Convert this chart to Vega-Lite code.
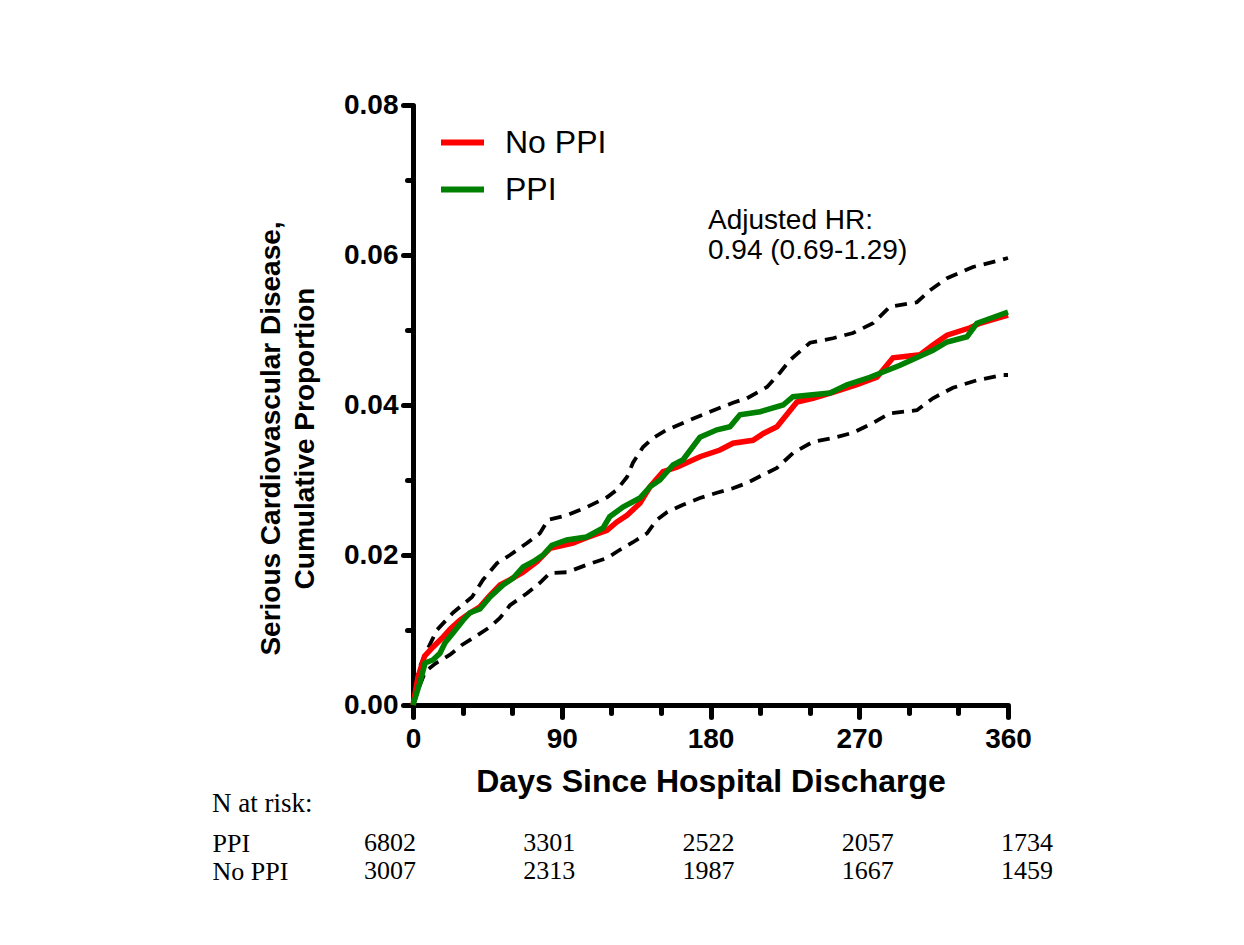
{
  "$schema": "https://vega.github.io/schema/vega-lite/v6.json",
  "autosize": {"type": "pad"},
  "padding": {"left": 212, "top": 91, "right": 5, "bottom": 5},
  "background": "white",
  "bounds": "flush",
  "spacing": 124,
  "config": {"view": {"stroke": null}, "font": "Liberation Sans"},
  "resolve": {"scale": {"x": "independent", "y": "independent"}},
  "datasets": {
    "km": [
      {"group": "No PPI", "day": 0, "value": 0},
      {"group": "No PPI", "day": 3, "value": 0.0037},
      {"group": "No PPI", "day": 7, "value": 0.0065},
      {"group": "No PPI", "day": 12, "value": 0.0077},
      {"group": "No PPI", "day": 17.5, "value": 0.0089},
      {"group": "No PPI", "day": 22.4, "value": 0.0101},
      {"group": "No PPI", "day": 28.4, "value": 0.0113},
      {"group": "No PPI", "day": 34, "value": 0.0122},
      {"group": "No PPI", "day": 40.5, "value": 0.0131},
      {"group": "No PPI", "day": 46, "value": 0.0145},
      {"group": "No PPI", "day": 52.6, "value": 0.016},
      {"group": "No PPI", "day": 58.7, "value": 0.0167},
      {"group": "No PPI", "day": 66.6, "value": 0.0177},
      {"group": "No PPI", "day": 75, "value": 0.0191},
      {"group": "No PPI", "day": 82.9, "value": 0.0209},
      {"group": "No PPI", "day": 96.8, "value": 0.0216},
      {"group": "No PPI", "day": 105, "value": 0.0223},
      {"group": "No PPI", "day": 117.4, "value": 0.0233},
      {"group": "No PPI", "day": 123.4, "value": 0.0244},
      {"group": "No PPI", "day": 129.5, "value": 0.0253},
      {"group": "No PPI", "day": 137.3, "value": 0.0269},
      {"group": "No PPI", "day": 143.4, "value": 0.0291},
      {"group": "No PPI", "day": 151.3, "value": 0.0311},
      {"group": "No PPI", "day": 159.7, "value": 0.0317},
      {"group": "No PPI", "day": 173.6, "value": 0.0331},
      {"group": "No PPI", "day": 185.7, "value": 0.034},
      {"group": "No PPI", "day": 193.6, "value": 0.0349},
      {"group": "No PPI", "day": 205.7, "value": 0.0353},
      {"group": "No PPI", "day": 212, "value": 0.0362},
      {"group": "No PPI", "day": 220.2, "value": 0.0371},
      {"group": "No PPI", "day": 232.3, "value": 0.0404},
      {"group": "No PPI", "day": 242, "value": 0.0409},
      {"group": "No PPI", "day": 254.1, "value": 0.0417},
      {"group": "No PPI", "day": 268.6, "value": 0.0427},
      {"group": "No PPI", "day": 280.7, "value": 0.0437},
      {"group": "No PPI", "day": 290.4, "value": 0.0463},
      {"group": "No PPI", "day": 306.8, "value": 0.0467},
      {"group": "No PPI", "day": 314.6, "value": 0.048},
      {"group": "No PPI", "day": 323.1, "value": 0.0493},
      {"group": "No PPI", "day": 337, "value": 0.0503},
      {"group": "No PPI", "day": 343, "value": 0.0509},
      {"group": "No PPI", "day": 360, "value": 0.052},
      {"group": "PPI", "day": 0, "value": 0},
      {"group": "PPI", "day": 4.2, "value": 0.003},
      {"group": "PPI", "day": 7.3, "value": 0.0056},
      {"group": "PPI", "day": 12, "value": 0.006},
      {"group": "PPI", "day": 16.3, "value": 0.0069},
      {"group": "PPI", "day": 19.4, "value": 0.0083},
      {"group": "PPI", "day": 24.2, "value": 0.0096},
      {"group": "PPI", "day": 30.3, "value": 0.0113},
      {"group": "PPI", "day": 34.5, "value": 0.0123},
      {"group": "PPI", "day": 40.5, "value": 0.0128},
      {"group": "PPI", "day": 46.6, "value": 0.0144},
      {"group": "PPI", "day": 54.5, "value": 0.016},
      {"group": "PPI", "day": 60.5, "value": 0.0169},
      {"group": "PPI", "day": 66.6, "value": 0.0184},
      {"group": "PPI", "day": 72.6, "value": 0.0191},
      {"group": "PPI", "day": 78.7, "value": 0.02},
      {"group": "PPI", "day": 84, "value": 0.0213},
      {"group": "PPI", "day": 93, "value": 0.022},
      {"group": "PPI", "day": 105, "value": 0.0224},
      {"group": "PPI", "day": 115, "value": 0.0236},
      {"group": "PPI", "day": 119, "value": 0.0251},
      {"group": "PPI", "day": 127, "value": 0.0264},
      {"group": "PPI", "day": 137.3, "value": 0.0276},
      {"group": "PPI", "day": 143.4, "value": 0.0291},
      {"group": "PPI", "day": 149.4, "value": 0.03},
      {"group": "PPI", "day": 157.3, "value": 0.032},
      {"group": "PPI", "day": 163.4, "value": 0.0327},
      {"group": "PPI", "day": 173.6, "value": 0.0357},
      {"group": "PPI", "day": 183.9, "value": 0.0367},
      {"group": "PPI", "day": 191.8, "value": 0.0371},
      {"group": "PPI", "day": 197.8, "value": 0.0387},
      {"group": "PPI", "day": 210, "value": 0.0391},
      {"group": "PPI", "day": 223.9, "value": 0.04},
      {"group": "PPI", "day": 229.9, "value": 0.0411},
      {"group": "PPI", "day": 252.3, "value": 0.0416},
      {"group": "PPI", "day": 262.6, "value": 0.0427},
      {"group": "PPI", "day": 276.5, "value": 0.0437},
      {"group": "PPI", "day": 294.7, "value": 0.0453},
      {"group": "PPI", "day": 314.6, "value": 0.0473},
      {"group": "PPI", "day": 323.1, "value": 0.0484},
      {"group": "PPI", "day": 335.2, "value": 0.0491},
      {"group": "PPI", "day": 341.2, "value": 0.0509},
      {"group": "PPI", "day": 360, "value": 0.0524}
    ],
    "ci": [
      {"bound": "upper", "day": 0, "value": 0},
      {"bound": "upper", "day": 3, "value": 0.0045},
      {"bound": "upper", "day": 8.5, "value": 0.0073},
      {"bound": "upper", "day": 14.5, "value": 0.01},
      {"bound": "upper", "day": 24.2, "value": 0.0123},
      {"bound": "upper", "day": 35.7, "value": 0.0144},
      {"bound": "upper", "day": 42.4, "value": 0.0167},
      {"bound": "upper", "day": 50.8, "value": 0.0189},
      {"bound": "upper", "day": 58.7, "value": 0.02},
      {"bound": "upper", "day": 69, "value": 0.0216},
      {"bound": "upper", "day": 76.8, "value": 0.0229},
      {"bound": "upper", "day": 81.7, "value": 0.0247},
      {"bound": "upper", "day": 93.2, "value": 0.0253},
      {"bound": "upper", "day": 105.3, "value": 0.0264},
      {"bound": "upper", "day": 117.4, "value": 0.0277},
      {"bound": "upper", "day": 123.4, "value": 0.0287},
      {"bound": "upper", "day": 129.5, "value": 0.0304},
      {"bound": "upper", "day": 133.1, "value": 0.0323},
      {"bound": "upper", "day": 139.2, "value": 0.0344},
      {"bound": "upper", "day": 145.2, "value": 0.0356},
      {"bound": "upper", "day": 153.7, "value": 0.0367},
      {"bound": "upper", "day": 167.6, "value": 0.038},
      {"bound": "upper", "day": 179.7, "value": 0.0391},
      {"bound": "upper", "day": 193.6, "value": 0.0403},
      {"bound": "upper", "day": 202.1, "value": 0.0409},
      {"bound": "upper", "day": 214.2, "value": 0.0424},
      {"bound": "upper", "day": 222, "value": 0.0443},
      {"bound": "upper", "day": 228.1, "value": 0.046},
      {"bound": "upper", "day": 240.2, "value": 0.0483},
      {"bound": "upper", "day": 254.1, "value": 0.0489},
      {"bound": "upper", "day": 266.2, "value": 0.0496},
      {"bound": "upper", "day": 278.3, "value": 0.0509},
      {"bound": "upper", "day": 288.6, "value": 0.0531},
      {"bound": "upper", "day": 304.9, "value": 0.0537},
      {"bound": "upper", "day": 312.8, "value": 0.0553},
      {"bound": "upper", "day": 323.1, "value": 0.0569},
      {"bound": "upper", "day": 338.8, "value": 0.0584},
      {"bound": "upper", "day": 355.2, "value": 0.0593},
      {"bound": "upper", "day": 360, "value": 0.0596},
      {"bound": "lower", "day": 0, "value": 0},
      {"bound": "lower", "day": 3, "value": 0.002},
      {"bound": "lower", "day": 7.3, "value": 0.0044},
      {"bound": "lower", "day": 13.3, "value": 0.0055},
      {"bound": "lower", "day": 22.4, "value": 0.0067},
      {"bound": "lower", "day": 29.6, "value": 0.008},
      {"bound": "lower", "day": 37.5, "value": 0.0091},
      {"bound": "lower", "day": 46.6, "value": 0.0104},
      {"bound": "lower", "day": 52.6, "value": 0.0116},
      {"bound": "lower", "day": 58.7, "value": 0.0133},
      {"bound": "lower", "day": 69, "value": 0.0149},
      {"bound": "lower", "day": 76.8, "value": 0.0163},
      {"bound": "lower", "day": 82.9, "value": 0.0176},
      {"bound": "lower", "day": 93.2, "value": 0.0177},
      {"bound": "lower", "day": 105.3, "value": 0.0187},
      {"bound": "lower", "day": 117.4, "value": 0.0196},
      {"bound": "lower", "day": 125.2, "value": 0.0207},
      {"bound": "lower", "day": 133.1, "value": 0.0217},
      {"bound": "lower", "day": 141.6, "value": 0.0229},
      {"bound": "lower", "day": 147.6, "value": 0.0247},
      {"bound": "lower", "day": 153.7, "value": 0.0257},
      {"bound": "lower", "day": 163.4, "value": 0.0267},
      {"bound": "lower", "day": 173.6, "value": 0.0276},
      {"bound": "lower", "day": 183.9, "value": 0.0283},
      {"bound": "lower", "day": 193.6, "value": 0.0289},
      {"bound": "lower", "day": 202.1, "value": 0.0296},
      {"bound": "lower", "day": 210, "value": 0.0305},
      {"bound": "lower", "day": 220.2, "value": 0.0316},
      {"bound": "lower", "day": 229.9, "value": 0.0336},
      {"bound": "lower", "day": 242, "value": 0.0351},
      {"bound": "lower", "day": 254.1, "value": 0.0356},
      {"bound": "lower", "day": 266.2, "value": 0.0363},
      {"bound": "lower", "day": 278.3, "value": 0.0376},
      {"bound": "lower", "day": 288.6, "value": 0.0389},
      {"bound": "lower", "day": 304.9, "value": 0.0393},
      {"bound": "lower", "day": 314.6, "value": 0.0409},
      {"bound": "lower", "day": 326.7, "value": 0.0423},
      {"bound": "lower", "day": 341.2, "value": 0.0433},
      {"bound": "lower", "day": 357, "value": 0.044},
      {"bound": "lower", "day": 360, "value": 0.044}
    ],
    "note": [
      {"day": 178.5, "value": 0.0664, "label": "Adjusted HR:\n0.94 (0.69-1.29)"}
    ],
    "risk": [
      {"group": "PPI", "time": 0, "n": 6802},
      {"group": "PPI", "time": 90, "n": 3301},
      {"group": "PPI", "time": 180, "n": 2522},
      {"group": "PPI", "time": 270, "n": 2057},
      {"group": "PPI", "time": 360, "n": 1734},
      {"group": "No PPI", "time": 0, "n": 3007},
      {"group": "No PPI", "time": 90, "n": 2313},
      {"group": "No PPI", "time": 180, "n": 1987},
      {"group": "No PPI", "time": 270, "n": 1667},
      {"group": "No PPI", "time": 360, "n": 1459}
    ]
  },
  "vconcat": [
    {
      "width": 595,
      "height": 600,
      "encoding": {
        "x": {
          "field": "day", "type": "quantitative",
          "scale": {"domain": [0, 360], "nice": false, "zero": false},
          "axis": {
            "values": [0, 30, 60, 90, 120, 150, 180, 210, 240, 270, 300, 330, 360],
            "labelExpr": "datum.value % 90 === 0 ? datum.label : ''",
            "tickSize": {"condition": {"test": "datum.value % 90 === 0", "value": 12}, "value": 8},
            "tickWidth": 5, "tickColor": "black", "tickCap": "round",
            "domainWidth": 5, "domainColor": "black",
            "labelFont": "Liberation Sans", "labelFontSize": 28, "labelFontWeight": "bold", "labelColor": "black",
            "labelPadding": 8, "labelFlush": false, "labelOverlap": false,
            "title": "Days Since Hospital Discharge",
            "titleFont": "Liberation Sans", "titleFontSize": 32, "titleFontWeight": "bold", "titleColor": "black",
            "titlePadding": 13, "grid": false
          }
        },
        "y": {
          "field": "value", "type": "quantitative",
          "scale": {"domain": [0, 0.08], "nice": false},
          "axis": {
            "values": [0, 0.01, 0.02, 0.03, 0.04, 0.05, 0.06, 0.07, 0.08],
            "labelExpr": "round(datum.value * 100) % 2 === 0 ? format(datum.value, '.2f') : ''",
            "tickSize": {"condition": {"test": "round(datum.value * 100) % 2 === 0", "value": 10}, "value": 6},
            "tickWidth": 5, "tickColor": "black", "tickCap": "round",
            "domainWidth": 5, "domainColor": "black",
            "labelFont": "Liberation Sans", "labelFontSize": 28, "labelFontWeight": "bold", "labelColor": "black",
            "labelPadding": 5, "labelFlush": false, "labelOverlap": false,
            "title": ["Serious Cardiovascular Disease,", "Cumulative Proportion"],
            "titleFont": "Liberation Sans", "titleFontSize": 28, "titleFontWeight": "bold", "titleColor": "black",
            "titleLineHeight": 34, "titlePadding": 24, "titleY": 333, "grid": false
          }
        }
      },
      "layer": [
        {
          "data": {"name": "ci"},
          "mark": {"type": "line", "color": "black", "strokeWidth": 3.8, "strokeDash": [12, 8]},
          "encoding": {
            "detail": {"field": "bound", "type": "nominal"}
          }
        },
        {
          "data": {"name": "km"},
          "mark": {"type": "line", "strokeWidth": 5.5},
          "encoding": {
            "color": {
              "field": "group", "type": "nominal",
              "scale": {"domain": ["No PPI", "PPI"], "range": ["#ff0000", "#008000"]},
              "legend": {
                "orient": "none", "legendX": 25, "legendY": 13, "title": null,
                "symbolType": "stroke", "symbolSize": 1849, "symbolStrokeWidth": 6,
                "labelFont": "Liberation Sans", "labelFontSize": 32, "labelColor": "black",
                "labelOffset": 18, "rowPadding": 6, "padding": 0
              }
            }
          }
        },
        {
          "data": {"name": "note"},
          "mark": {"type": "text", "align": "left", "baseline": "top", "fontSize": 28, "lineHeight": 30, "lineBreak": "\n", "font": "Liberation Sans", "color": "black"},
          "encoding": {
            "text": {"field": "label"}
          }
        }
      ]
    },
    {
      "width": 595,
      "height": 56,
      "data": {"name": "risk"},
      "title": {"text": "N at risk:", "anchor": "start", "frame": "group", "dx": -201, "font": "Liberation Serif", "fontSize": 27, "fontWeight": "normal", "color": "black", "baseline": "alphabetic", "offset": -10},
      "mark": {"type": "text", "font": "Liberation Serif", "fontSize": 26, "color": "black"},
      "encoding": {
        "x": {"field": "time", "type": "quantitative", "scale": {"domain": [13, 349.3], "nice": false, "zero": false}, "axis": null},
        "y": {
          "field": "group", "type": "nominal", "sort": ["PPI", "No PPI"],
          "axis": {"title": null, "domain": false, "ticks": false, "tickSize": 0, "labelAlign": "left", "labelPadding": 201, "labelFont": "Liberation Serif", "labelFontSize": 26, "labelColor": "black"}
        },
        "text": {"field": "n", "type": "quantitative", "format": "d"}
      }
    }
  ]
}
